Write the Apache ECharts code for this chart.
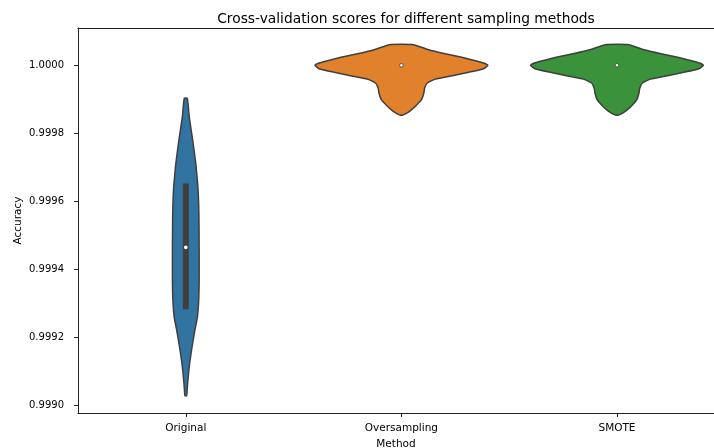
<!DOCTYPE html>
<html>
<head>
<meta charset="utf-8">
<script src="https://cdn.jsdelivr.net/npm/echarts@6/dist/echarts.min.js"></script>
<style>html,body{margin:0;padding:0;background:#fff}#chart{width:714px;height:448px}</style>
</head>
<body>
<div id="chart"></div>
<script>
// ---- data ----
const categories = ['Original', 'Oversampling', 'SMOTE'];
const categoryPositions = [0, 1, 2];
const xRange = [-0.5, 2.45];
const yTicks = [0.9990, 0.9992, 0.9994, 0.9996, 0.9998, 1.0000];
const yRange = [0.9989786, 1.0001095];

// violin outlines: accuracy value (top -> bottom) and half-width in category units
const originalValues = [0.9999031, 0.9998483, 0.9998013, 0.9997514, 0.9997015, 0.9996430, 0.9996046, 0.9995547, 0.9994578, 0.9993698, 0.9993111, 0.9992612, 0.9992143, 0.9991644, 0.9991145, 0.9990616, 0.9990294];
const originalWidths = [0.007, 0.016, 0.027, 0.038, 0.048, 0.056, 0.059, 0.061, 0.062, 0.062, 0.060, 0.054, 0.040, 0.027, 0.016, 0.008, 0.004];

const oversamplingValues = [1.0000605, 1.0000458, 1.0000340, 1.0000235, 1.0000135, 1.0000068, 1.0000000, 0.9999900, 0.9999795, 0.9999695, 0.9999597, 0.9999480, 0.9999334, 0.9999187, 0.9998990, 0.9998797, 0.9998667, 0.9998571, 0.9998532];
const oversamplingWidths = [0.056, 0.126, 0.203, 0.280, 0.343, 0.381, 0.401, 0.381, 0.312, 0.236, 0.158, 0.120, 0.108, 0.104, 0.093, 0.065, 0.042, 0.019, 0.004];

const smoteValues = [1.0000605, 1.0000458, 1.0000340, 1.0000235, 1.0000135, 1.0000068, 1.0000000, 0.9999900, 0.9999795, 0.9999695, 0.9999597, 0.9999480, 0.9999334, 0.9999187, 0.9998990, 0.9998797, 0.9998667, 0.9998571, 0.9998532];
const smoteWidths = [0.055, 0.125, 0.204, 0.282, 0.345, 0.383, 0.401, 0.380, 0.310, 0.234, 0.156, 0.118, 0.106, 0.102, 0.092, 0.066, 0.043, 0.020, 0.004];

const boxQ1 = [0.999283, 1.0, 1.0];
const boxQ3 = [0.999653, 1.0, 1.0];
const medians = [0.999465, 1.0, 1.0];

const colors = ['#3274a1', '#e1812c', '#3a923a'];
const edgeColor = '#3f3f3f';

const violinValues = [originalValues, oversamplingValues, smoteValues];
const violinWidths = [originalWidths, oversamplingWidths, smoteWidths];

function renderViolin(params, api) {
  const idx = params.dataIndex;
  const pos = api.value(0);
  const vals = violinValues[idx];
  const widths = violinWidths[idx];
  const right = [], left = [];
  for (let i = 0; i < vals.length; i++) {
    right.push(api.coord([pos + widths[i], vals[i]]));
    left.unshift(api.coord([pos - widths[i], vals[i]]));
  }
  const points = right.concat(left);
  const q1 = api.coord([pos, boxQ1[idx]]);
  const q3 = api.coord([pos, boxQ3[idx]]);
  const med = api.coord([pos, medians[idx]]);
  const hasBox = q1[1] - q3[1] > 1;
  const children = [{
    type: 'polygon',
    shape: { points: points, smooth: 0.15 },
    style: { fill: colors[idx], stroke: edgeColor, lineWidth: 1.5, lineJoin: 'round' }
  }];
  if (hasBox) {
    children.push({
      type: 'rect',
      shape: { x: q1[0] - 3, y: q3[1], width: 6, height: q1[1] - q3[1] },
      style: { fill: edgeColor }
    });
  }
  children.push({
    type: 'circle',
    shape: { cx: med[0], cy: med[1], r: 1.8 },
    style: { fill: '#ffffff', stroke: edgeColor, lineWidth: hasBox ? 0 : 0.8 }
  });
  return { type: 'group', children: children };
}

const chart = echarts.init(document.getElementById('chart'), null, { renderer: 'canvas' });
chart.setOption({
  animation: false,
  backgroundColor: '#ffffff',
  textStyle: { fontFamily: 'DejaVu Sans' },
  title: {
    text: 'Cross-validation scores for different sampling methods',
    left: 401, top: 7, textAlign: 'center',
    textStyle: { fontFamily: 'DejaVu Sans', fontSize: 13.8, fontWeight: 'normal', color: '#000' }
  },
  grid: { left: 78, top: 28, right: 0, height: 385, show: false, containLabel: false, outerBoundsMode: 'none' },
  xAxis: [{
    type: 'value', min: xRange[0], max: xRange[1],
    name: 'Method', nameLocation: 'middle', nameGap: 26, nameMoveOverlap: false,
    nameTextStyle: { fontFamily: 'DejaVu Sans', fontSize: 10.5, color: '#000' },
    axisLine: { show: true, onZero: false, lineStyle: { color: '#222', width: 1 } },
    axisTick: { show: true, length: 4, customValues: categoryPositions, lineStyle: { color: '#222' } },
    axisLabel: { margin: 10, fontFamily: 'DejaVu Sans', fontSize: 10.5, color: '#000', customValues: categoryPositions, formatter: v => categories[Math.round(v)] },
    splitLine: { show: false }
  }, {
    type: 'value', position: 'top', min: xRange[0], max: xRange[1],
    axisLine: { show: true, onZero: false, lineStyle: { color: '#222', width: 1 } },
    axisTick: { show: false }, axisLabel: { show: false }, splitLine: { show: false }
  }],
  yAxis: {
    type: 'value', min: yRange[0], max: yRange[1],
    name: 'Accuracy', nameLocation: 'middle', nameGap: 54, nameRotate: 90, nameMoveOverlap: false,
    nameTextStyle: { fontFamily: 'DejaVu Sans', fontSize: 10.5, color: '#000' },
    axisLine: { show: true, onZero: false, lineStyle: { color: '#222', width: 1 } },
    axisTick: { show: true, length: 4, customValues: yTicks, lineStyle: { color: '#222' } },
    axisLabel: { margin: 14, fontFamily: 'DejaVu Sans', fontSize: 10, color: '#000', customValues: yTicks, formatter: v => v.toFixed(4) },
    splitLine: { show: false }
  },
  series: [{
    type: 'custom',
    renderItem: renderViolin,
    data: categoryPositions.map(p => [p]),
    encode: { x: 0 },
    clip: false
  }]
});
</script>
</body>
</html>
